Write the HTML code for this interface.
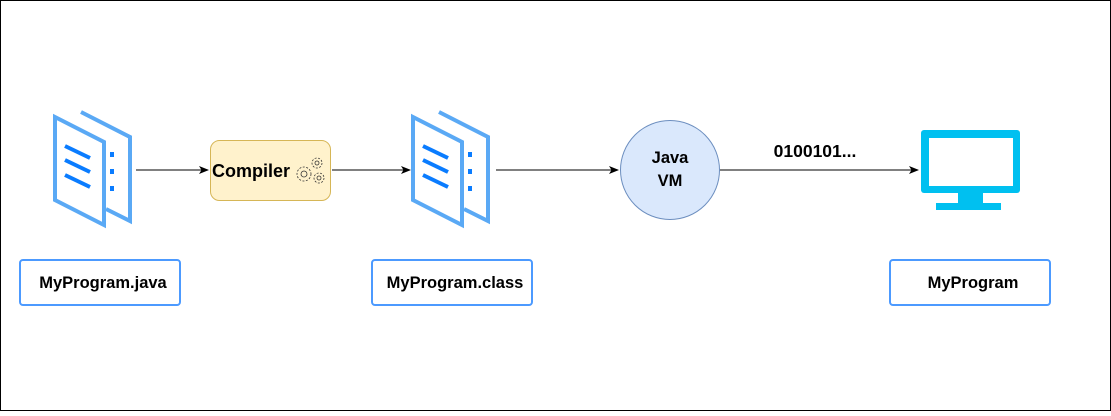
<!DOCTYPE html>
<html><head><style>
body{margin:0;background:#fff}
svg text{font-family:"Liberation Sans",sans-serif;font-weight:bold;font-size:16.5px}
</style></head><body>
<svg width="1111" height="411" viewBox="0 0 1111 411" xmlns="http://www.w3.org/2000/svg">
<rect x="0.5" y="0.5" width="1110" height="410" fill="#fff" stroke="#000"/>
<defs>
<marker id="a" markerWidth="10" markerHeight="10" refX="9" refY="5" orient="auto" markerUnits="userSpaceOnUse">
<path d="M0,1 L10,5 L0,9 L2.5,5 Z" fill="#000"/></marker>
<g id="doc">
<path d="M81,112 L130,137 L130,221 L106,209" fill="none" stroke="#5aa9f5" stroke-width="4"/>
<path d="M55,117 L104,142 L104,225 L55,200 Z" fill="#fff" stroke="#5aa9f5" stroke-width="4"/>
<g stroke="#0a7cff" stroke-width="4">
<line x1="65" y1="146" x2="90" y2="158"/>
<line x1="65" y1="160" x2="90" y2="172"/>
<line x1="65" y1="175" x2="90" y2="187"/>
</g>
<g fill="#0a7cff">
<rect x="110" y="152" width="4" height="5"/>
<rect x="110" y="169" width="4" height="5"/>
<rect x="110" y="186" width="4" height="5"/>
</g>
</g>
</defs>
<use href="#doc"/>
<use href="#doc" transform="translate(358,0)"/>
<g stroke="#000" stroke-width="1" marker-end="url(#a)">
<line x1="136" y1="170" x2="208" y2="170"/>
<line x1="332" y1="170" x2="410" y2="170"/>
<line x1="496" y1="170" x2="618" y2="170"/>
<line x1="720" y1="170" x2="918" y2="170"/>
</g>
<rect x="210.5" y="140.5" width="120" height="60" rx="9" fill="#fff2cc" stroke="#d6b656"/>
<text x="212" y="177" style="font-size:18px">Compiler</text>
<g fill="none" stroke="#333" stroke-width="0.8">
<circle cx="304" cy="174" r="7" stroke-dasharray="2 1.5"/><circle cx="304" cy="174" r="3"/>
<circle cx="317" cy="163" r="5" stroke-dasharray="2 1.5"/><circle cx="317" cy="163" r="2"/>
<circle cx="319" cy="178" r="5" stroke-dasharray="2 1.5"/><circle cx="319" cy="178" r="2"/>
</g>
<circle cx="670" cy="170" r="49.5" fill="#dae8fc" stroke="#6c8ebf"/>
<text x="670" y="163" text-anchor="middle">Java</text>
<text x="670" y="186" text-anchor="middle">VM</text>
<text x="815" y="157" text-anchor="middle" style="font-size:17.5px">0100101...</text>
<g fill="#00c0f0">
<rect x="921" y="130" width="99" height="63" rx="3"/>
<rect x="958" y="192" width="25" height="11"/>
<rect x="936" y="203" width="65" height="7"/>
</g>
<rect x="929" y="138" width="84" height="48" fill="#fff"/>
<g fill="#fff" stroke="#4c9aff" stroke-width="2">
<rect x="20" y="260" width="160" height="45" rx="3"/>
<rect x="372" y="260" width="160" height="45" rx="3"/>
<rect x="890" y="260" width="160" height="45" rx="3"/>
</g>
<text x="103" y="288" text-anchor="middle">MyProgram.java</text>
<text x="455" y="288" text-anchor="middle">MyProgram.class</text>
<text x="973" y="288" text-anchor="middle">MyProgram</text>
</svg>
</body></html>
